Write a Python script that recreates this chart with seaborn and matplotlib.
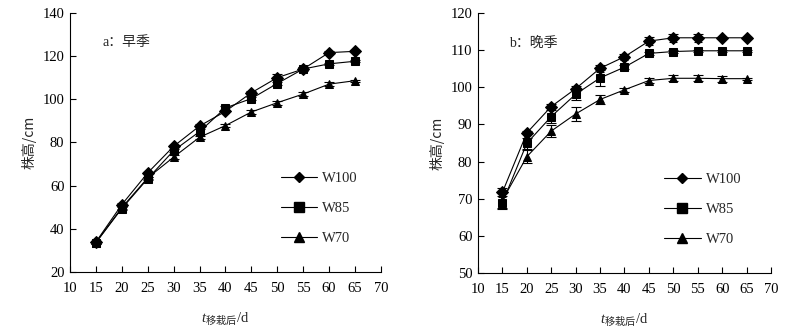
import numpy as np
import pandas as pd
import matplotlib
matplotlib.use("Agg")
import matplotlib.pyplot as plt
import seaborn as sns

# Days after transplanting
days = [15, 20, 25, 30, 35, 40, 45, 50, 55, 60, 65]
treatments = ["W100", "W85", "W70"]

# Early season plant height (cm) and standard error
early_w100 = [33.9, 51.2, 65.9, 78.2, 87.6, 94.4, 103.0, 110.0, 114.0, 121.6, 122.2]
early_w85 = [33.6, 49.4, 63.2, 76.2, 85.0, 96.0, 100.3, 107.3, 114.0, 116.4, 117.6]
early_w70 = [33.6, 49.8, 63.6, 73.2, 82.4, 87.8, 94.1, 98.4, 102.4, 107.0, 108.6]
early_w100_se = [0.6, 0.6, 0.6, 0.8, 0.8, 0.8, 1.0, 1.5, 0.8, 0.8, 0.5]
early_w85_se = [0.6, 0.6, 0.6, 0.8, 1.0, 0.8, 0.8, 0.8, 0.8, 0.6, 0.5]
early_w70_se = [0.6, 0.6, 0.6, 0.8, 0.8, 0.8, 0.8, 1.0, 0.8, 0.8, 0.5]

# Late season plant height (cm) and standard error
late_w100 = [71.7, 87.7, 94.8, 99.6, 105.1, 108.2, 112.4, 113.3, 113.3, 113.3, 113.3]
late_w85 = [68.9, 84.9, 92.1, 98.1, 102.5, 105.4, 109.1, 109.6, 109.8, 109.8, 109.8]
late_w70 = [69.6, 81.3, 88.2, 92.8, 96.7, 99.3, 101.8, 102.4, 102.4, 102.3, 102.3]
late_w100_se = [1.2, 0.5, 0.6, 0.8, 0.9, 0.8, 1.0, 1.0, 1.0, 0.3, 0.3]
late_w85_se = [1.8, 1.4, 1.8, 1.5, 2.2, 0.5, 0.5, 0.3, 0.3, 0.3, 0.3]
late_w70_se = [2.0, 1.8, 1.6, 2.0, 1.2, 0.5, 0.7, 0.8, 0.8, 0.8, 0.3]

season_labels = ["a：早季", "b：晚季"]
x_ticks = [10, 15, 20, 25, 30, 35, 40, 45, 50, 55, 60, 65, 70]
early_y_ticks = [20, 40, 60, 80, 100, 120, 140]
late_y_ticks = [50, 60, 70, 80, 90, 100, 110, 120]


def long_table(values, errors):
    rows = []
    for name, vals, errs in zip(treatments, values, errors):
        for d, v, e in zip(days, vals, errs):
            rows.append({"day": d, "height": v, "se": e, "treatment": name})
    return pd.DataFrame(rows)


early = long_table([early_w100, early_w85, early_w70],
                   [early_w100_se, early_w85_se, early_w70_se])
late = long_table([late_w100, late_w85, late_w70],
                  [late_w100_se, late_w85_se, late_w70_se])

sns.set_theme(style="ticks")
plt.rcParams["font.family"] = ["Liberation Serif", "Noto Sans CJK SC", "DejaVu Sans"]
plt.rcParams["mathtext.fontset"] = "custom"
plt.rcParams["mathtext.it"] = "Liberation Serif:italic"
plt.rcParams["mathtext.rm"] = "Noto Sans CJK SC"

markers = {"W100": "D", "W85": "s", "W70": "^"}
msizes = {"W100": 5.5, "W85": 6.5, "W70": 6.5}

fig = plt.figure(figsize=(7.89, 3.28), dpi=100)
ax_a = fig.add_axes([0.0887, 0.1707, 0.394, 0.790])
ax_b = fig.add_axes([0.6058, 0.1677, 0.3714, 0.793])


def draw_panel(ax, df, yticks, label, legend_x):
    for name in treatments:
        sub = df[df["treatment"] == name]
        ax.errorbar(sub["day"], sub["height"], yerr=sub["se"], fmt="none",
                    ecolor="black", elinewidth=0.8, capsize=3.5, capthick=0.8,
                    zorder=2)
    sns.lineplot(data=df, x="day", y="height", hue="treatment", style="treatment",
                 palette={t: "black" for t in treatments}, markers=markers,
                 dashes=False, linewidth=0.8, markeredgecolor="black",
                 legend=False, ax=ax, zorder=3)
    for line, name in zip(ax.lines, treatments):
        line.set_markersize(msizes[name])

    ax.set_xlim(10, 70)
    ax.set_ylim(yticks[0], yticks[-1])
    ax.set_xticks(x_ticks)
    ax.set_yticks(yticks)
    ax.tick_params(direction="in", length=4, width=0.8, labelsize=10.5,
                   colors="black")
    ax.tick_params(axis="x", pad=7)
    ax.tick_params(axis="y", pad=4)
    for side in ("top", "right"):
        ax.spines[side].set_visible(False)
    for side in ("left", "bottom"):
        ax.spines[side].set_linewidth(0.8)
        ax.spines[side].set_color("black")

    ax.set_ylabel("株高/cm", fontsize=10, labelpad=4,
                  family=["Noto Sans CJK SC", "DejaVu Sans"])
    ax.set_xlabel(r"$\mathit{t}_{\mathrm{移栽后}}$/d", fontsize=10.5, labelpad=11)
    ax.text(0.105, 0.885, label, transform=ax.transAxes, fontsize=10,
            va="center", ha="left",
            family=["Liberation Serif", "Noto Sans CJK SC"])

    handles = [plt.Line2D([], [], color="black", linewidth=0.8,
                          marker=markers[t], markersize=msizes[t])
               for t in treatments]
    ax.legend(handles, treatments, loc="center left",
              bbox_to_anchor=(legend_x, 0.245), frameon=False, fontsize=10.5,
              handlelength=2.5, handletextpad=0.35, labelspacing=1.15,
              borderpad=0, borderaxespad=0)


draw_panel(ax_a, early, early_y_ticks, season_labels[0], 0.678)
draw_panel(ax_b, late, late_y_ticks, season_labels[1], 0.635)

fig.savefig("out.png", dpi=100)
